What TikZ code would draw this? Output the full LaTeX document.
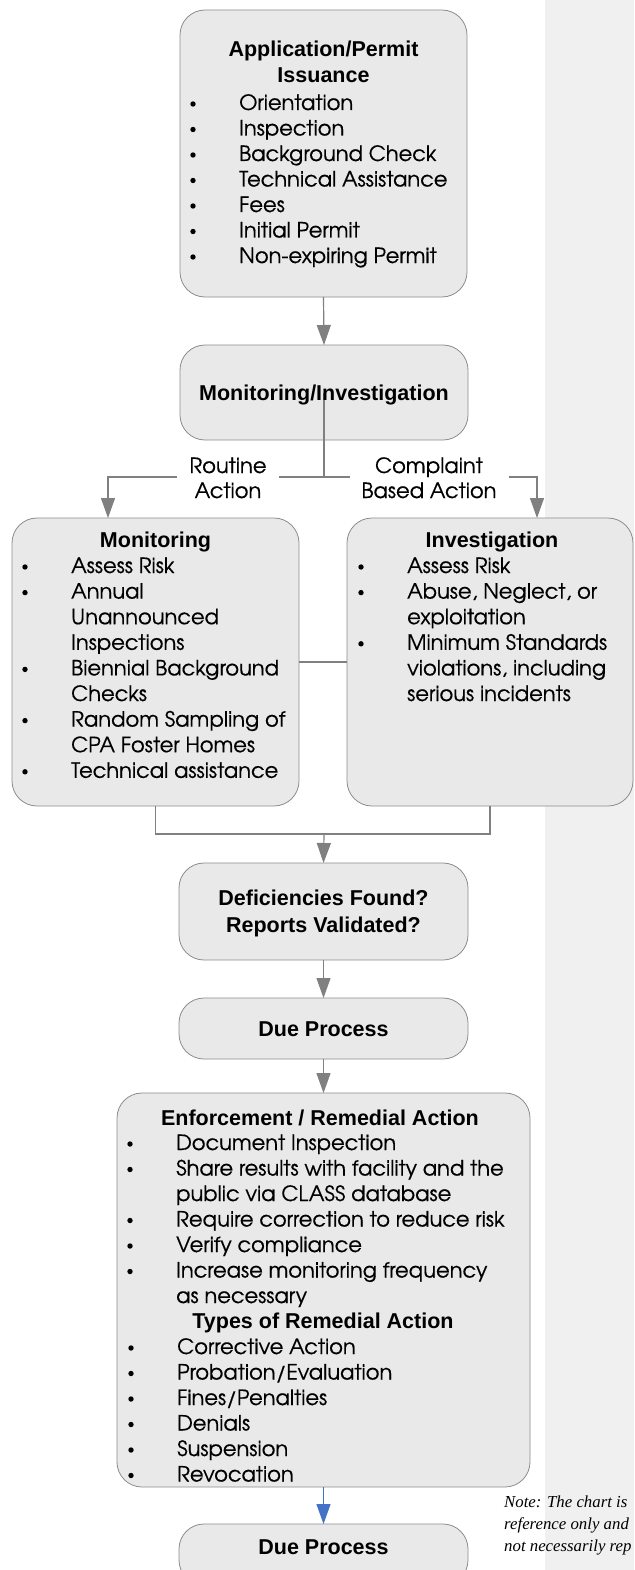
\documentclass[tikz,border=0pt]{standalone}
\usepackage{fontspec}
\setmainfont{texgyreadventor-regular.otf}[BoldFont=texgyreadventor-bold.otf,FakeBold=0.5]
\newfontfamily\headfont{Liberation Sans}
\newfontfamily\notefont{Liberation Serif}
\definecolor{BoxFill}{RGB}{233,233,233}
\definecolor{BoxLine}{RGB}{140,140,140}
\definecolor{LinkGray}{RGB}{128,128,128}
\definecolor{Band}{RGB}{240,240,240}
\definecolor{LinkBlue}{RGB}{68,114,196}
\usepackage{tikz}
\usetikzlibrary{arrows.meta,positioning,calc}

\tikzset{
  box/.style={draw=BoxLine,fill=BoxFill,rounded corners=25pt,line width=0.8pt,inner sep=0pt,outer sep=0pt},
  head/.style={font=\headfont\bfseries\fontsize{21.5}{26}\selectfont,inner sep=0pt,anchor=base},
  item/.style={font=\fontsize{21}{25.5}\selectfont,inner sep=0pt,anchor=base west},
  branchtag/.style={font=\fontsize{21}{25}\selectfont,fill=white,align=center,inner xsep=12pt,inner ysep=1pt,anchor=base},
  notetext/.style={font=\notefont\itshape\fontsize{16.8}{22}\selectfont,inner sep=0pt,anchor=base west},
  link/.style={draw=LinkGray,line width=1.2pt},
  arrow/.style={link,-{Triangle[length=20pt,width=14pt]}},
}

\begin{document}
\begin{tikzpicture}[x=1pt,y=-1pt]
  \useasboundingbox (0,0) rectangle (634,1570);
  \fill[Band] (545,0) rectangle (634,1570);

  % boxes
  \node[box,minimum width=287pt,minimum height=287pt] (permit) at (323.5,153.5) {};
  \node[box,minimum width=288pt,minimum height=95pt] (monit) at (324,392.5) {};
  \node[box,minimum width=287pt,minimum height=288pt] (monbox) at (155.5,662) {};
  \node[box,minimum width=286pt,minimum height=288pt] (invbox) at (490,662) {};
  \node[box,minimum width=289pt,minimum height=97pt] (deficit) at (323.5,911.5) {};
  \node[box,minimum width=289pt,minimum height=61pt] (dueA) at (323.5,1028.5) {};
  \node[box,minimum width=413pt,minimum height=394pt] (enforce) at (323.5,1290) {};
  \node[box,minimum width=289pt,minimum height=61pt] (dueB) at (323.5,1554.5) {};

  % connectors
  \draw[arrow] (permit.south) -- (monit.north);
  \coordinate (split) at (324,477);
  \coordinate (rleft) at (108,477);
  \coordinate (rright) at (537,477);
  \draw[link] (monit.center) -- (split);
  \draw[arrow] (split) -- (rleft) -- (rleft |- monbox.north);
  \draw[arrow] (split) -- (rright) -- (rright |- invbox.north);
  \draw[link] (monbox.east) -- (invbox.west);
  \coordinate (merge) at (324,834);
  \draw[link] (monbox.south) |- (merge) -| (invbox.south);
  \draw[arrow] (merge) -- (deficit.north);
  \draw[arrow] (deficit.south) -- (dueA.north);
  \draw[arrow] (dueA.south) -- (enforce.north);
  \draw[arrow,draw=LinkBlue] (enforce.south) -- (dueB.north);

  \node[branchtag] (routine) at (228,498) {Routine\\Action};
  \node[branchtag] (complaint) at (429,498) {Complaint\\Based Action};

  % titles
  \node[head] (permitT) at (323.5,57) {Application/Permit};
  \node[head] (permitU) at (323.5,83) {Issuance};
  \node[head] (monitT) at (324,400) {Monitoring/Investigation};
  \node[head] (monT) at (155.5,547) {Monitoring};
  \node[head] (invT) at (492,547) {Investigation};
  \node[head] (deficitT) at (323.5,905) {Deficiencies Found?};
  \node[head] (deficitU) at (323.5,932) {Reports Validated?};
  \node[head] (dueAT) at (323.5,1036) {Due Process};
  \node[head] (enforceT) at (320,1125) {Enforcement / Remedial Action};
  \node[head] (typesT) at (323,1328.5) {Types of Remedial Action};
  \node[head] (dueBT) at (323.5,1554) {Due Process};

  % bullet lists
  \foreach \t [count=\i from 0] in {Orientation,Inspection,Background Check,Technical Assistance,Fees,Initial Permit,Non-expiring Permit} {
    \node[item] (p\i) at (239,110+25.5*\i) {\t};
    \fill (193,104+25.5*\i) circle (2.7pt);
  }
  \foreach \b/\t [count=\i from 0] in {1/Assess Risk,1/Annual,0/Unannounced,0/Inspections,1/Biennial Background,0/Checks,1/Random Sampling of,0/CPA Foster Homes,1/Technical assistance} {
    \node[item] (m\i) at (71,573+25.6*\i) {\t};
    \ifnum\b=1 \fill (25,567+25.6*\i) circle (2.7pt); \fi
  }
  \foreach \b/\t [count=\i from 0] in {1/Assess Risk,1/{Abuse, Neglect, or},0/exploitation,1/Minimum Standards,0/{violations, including},0/serious incidents} {
    \node[item] (v\i) at (407,573+25.6*\i) {\t};
    \ifnum\b=1 \fill (361,567+25.6*\i) circle (2.7pt); \fi
  }
  \foreach \b/\t [count=\i from 0] in {1/Document Inspection,1/Share results with facility and the,0/public via CLASS database,1/Require correction to reduce risk,1/Verify compliance,1/Increase monitoring frequency,0/as necessary} {
    \node[item] (e\i) at (176,1150+25.5*\i) {\t};
    \ifnum\b=1 \fill (130,1144+25.5*\i) circle (2.7pt); \fi
  }
  \foreach \t [count=\i from 8] in {Corrective Action,Probation/Evaluation,Fines/Penalties,Denials,Suspension,Revocation} {
    \node[item] (r\i) at (177,1150+25.5*\i) {\t};
    \fill (131,1144+25.5*\i) circle (2.7pt);
  }

  % side note
  \foreach \t [count=\i from 0] in {Note: The chart is,reference only and,not necessarily rep} {
    \node[notetext] (note\i) at (504,1507+22*\i) {\t};
  }
\end{tikzpicture}
\end{document}
